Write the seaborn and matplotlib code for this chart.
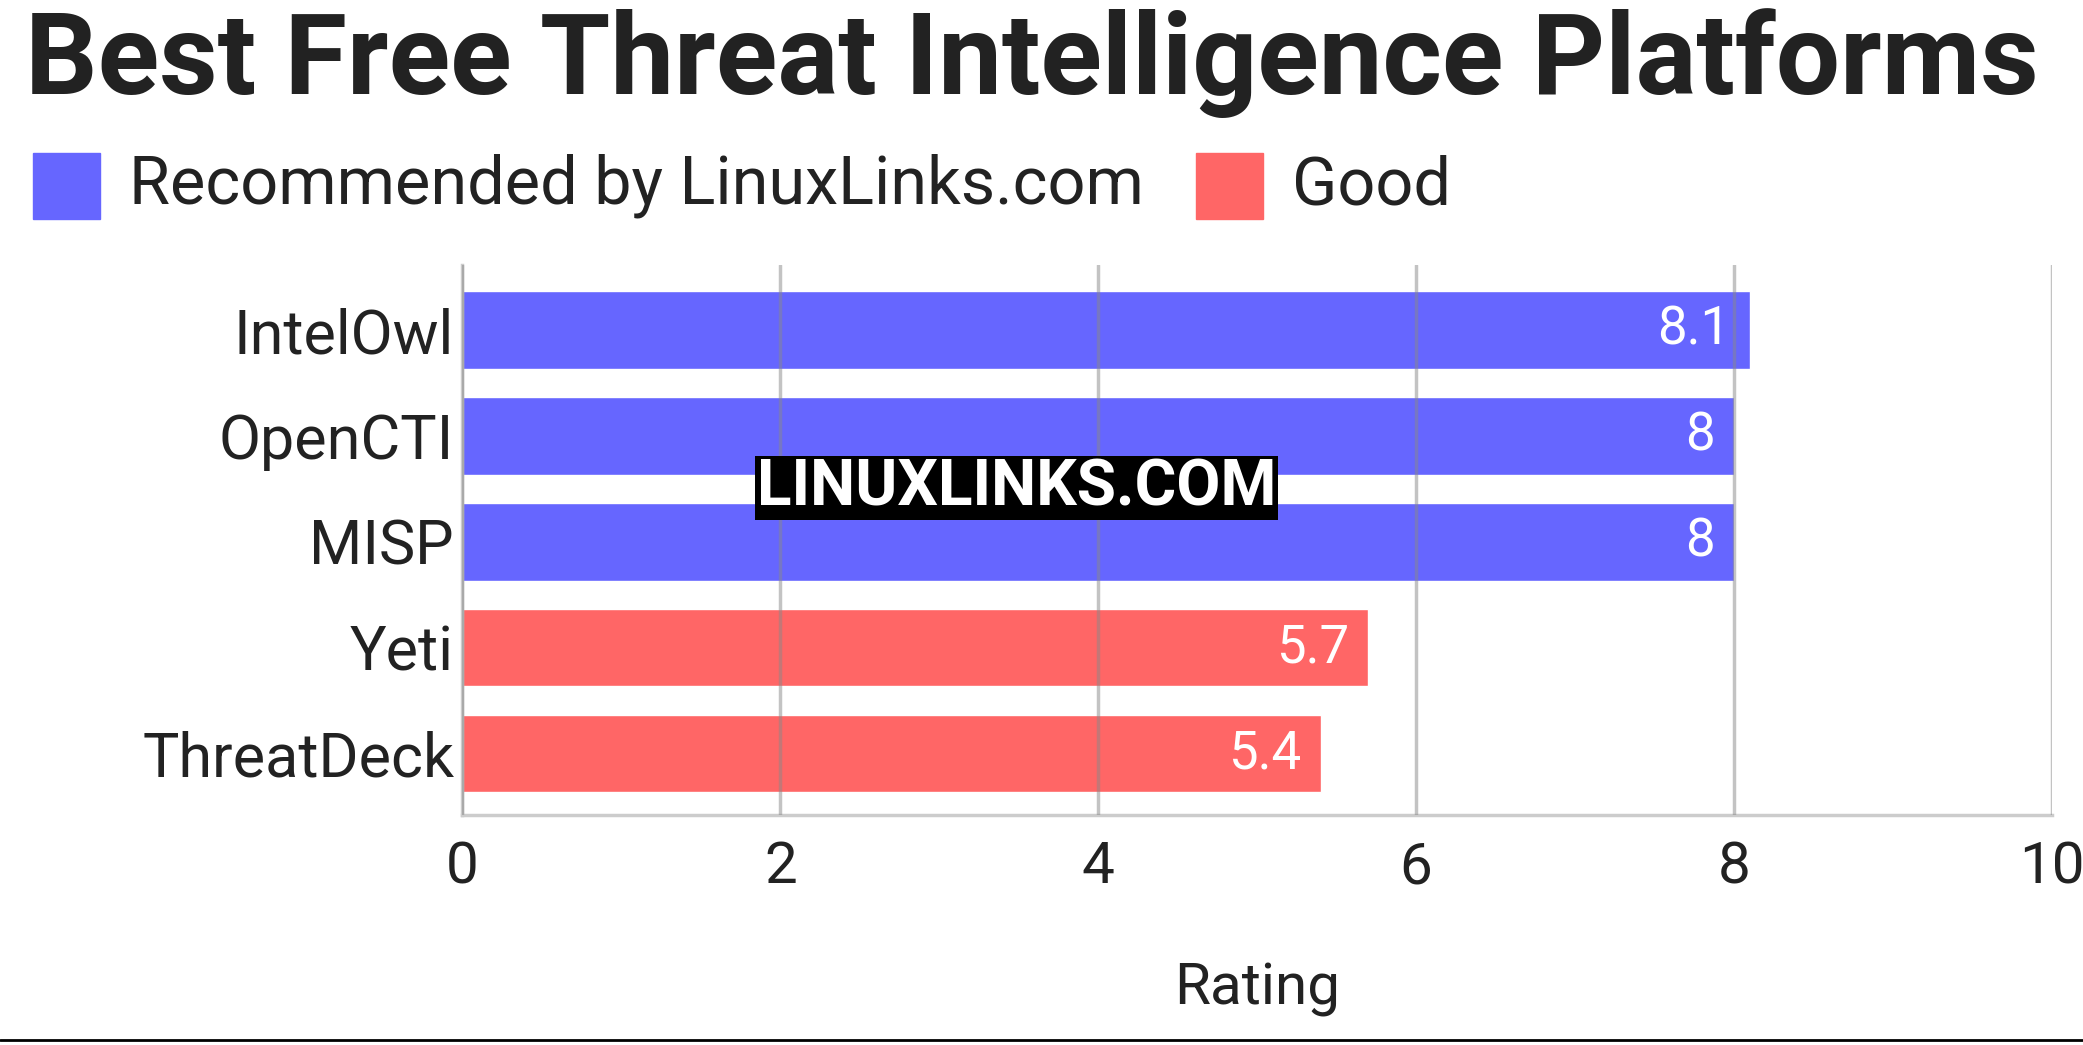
import matplotlib
matplotlib.use("Agg")
import matplotlib.pyplot as plt
import seaborn as sns
import pandas as pd

names = ["IntelOwl", "OpenCTI", "MISP", "Yeti", "ThreatDeck"]
ratings = [8.1, 8, 8, 5.7, 5.4]
groups = ["Recommended by LinuxLinks.com"] * 3 + ["Good"] * 2
palette = {"Recommended by LinuxLinks.com": "#6666ff", "Good": "#ff6666"}
xticks = [0, 2, 4, 6, 8, 10]

sns.set_theme(style="white")
plt.rcParams['font.family'] = ['Roboto', 'DejaVu Sans']
df = pd.DataFrame({"name": names, "rating": ratings, "group": groups})

fig = plt.figure(figsize=(20.83, 10.45), dpi=100)
ax = fig.add_axes([0.222, 0.22, 0.763, 0.526])
sns.barplot(data=df, y="name", x="rating", hue="group", palette=palette, saturation=1,
            dodge=False, width=0.73, ax=ax, legend=False, zorder=1)
ax.set_xlim(0, 10)
ax.set_ylim(4.58, -0.61)
ax.set_xticks(xticks)
ax.set_xticklabels([str(t) for t in xticks])
for t in xticks:
    ax.axvline(t, color="#888888", alpha=0.5, lw=2.5, zorder=3)
for s in ["top", "right"]:
    ax.spines[s].set_visible(False)
ax.spines["left"].set_color("#cccccc")
ax.spines["bottom"].set_color("#cccccc")
ax.spines["left"].set_linewidth(2.5)
ax.spines["bottom"].set_linewidth(2.5)
ax.tick_params(axis="y", labelsize=44, colors="#222222", length=0, pad=6)
ax.tick_params(axis="x", labelsize=42, colors="#222222", length=0, pad=18)
ax.set_ylabel("")
ax.set_xlabel("Rating", fontsize=42, color="#222222", labelpad=48)
for i, v in enumerate(ratings):
    ax.text(v - 0.12, i, f"{v:g}", ha="right", va="center", color="white", fontsize=38, zorder=4)

fig.text(0.012, 0.94, "Best Free Threat Intelligence Platforms", fontsize=82,
         fontweight="bold", color="#222222", va="center", ha="left")
x = 0.016
for lab in ["Recommended by LinuxLinks.com", "Good"]:
    fig.patches.append(plt.Rectangle((x, 0.79), 0.032, 0.064, transform=fig.transFigure,
                                     color=palette[lab], figure=fig))
    t = fig.text(x + 0.046, 0.822, lab, fontsize=48, color="#222222", va="center")
    fig.canvas.draw()
    bb = t.get_window_extent().transformed(fig.transFigure.inverted())
    x = bb.x1 + 0.025
fig.text(0.488, 0.533, "LINUXLINKS.COM", fontsize=46, fontweight="bold", color="white",
         ha="center", va="center", zorder=10,
         bbox=dict(facecolor="black", edgecolor="none", pad=1))
fig.add_artist(plt.Line2D([0, 1], [0.005, 0.005], color="black", lw=2, transform=fig.transFigure))
fig.savefig("out.png", dpi=100)
